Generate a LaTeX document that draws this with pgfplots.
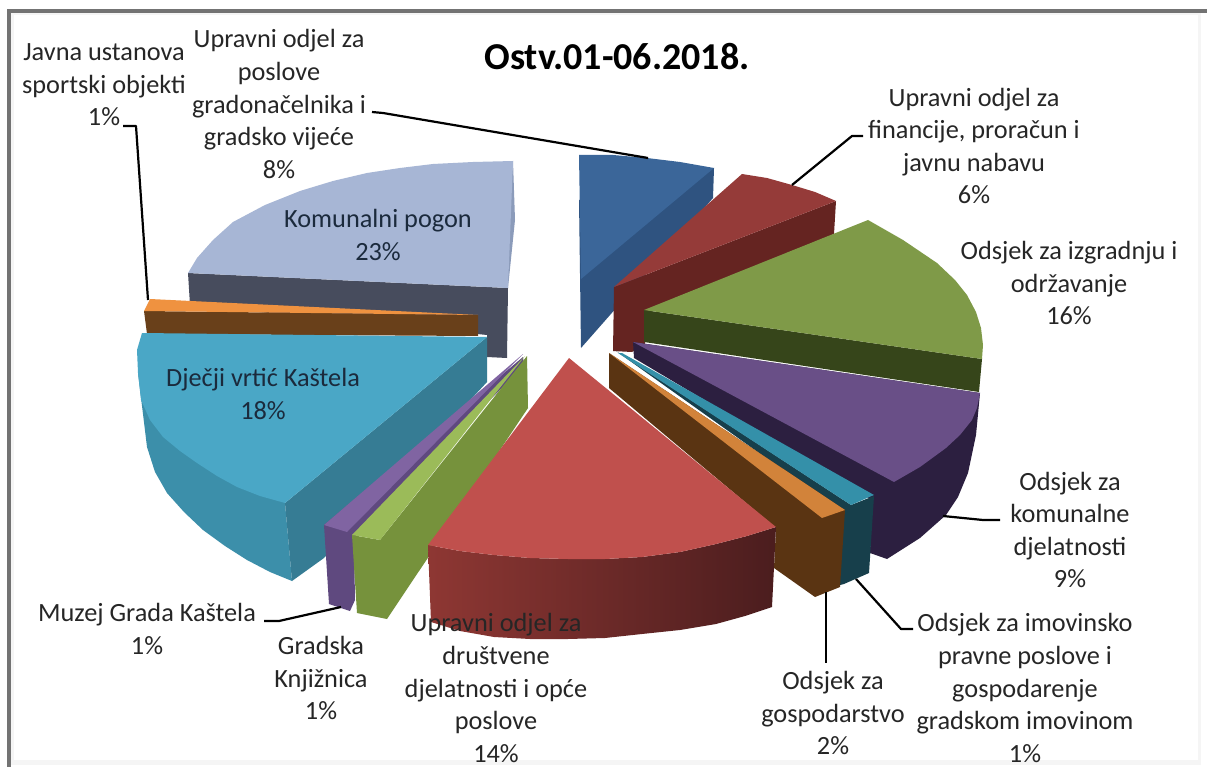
\documentclass[border=0pt]{standalone}
\usepackage{fontspec}
\setmainfont{Carlito}
\usepackage{pgfplots}
\pgfplotsset{compat=1.18}
\definecolor{txt}{HTML}{262626}
\definecolor{txtin}{HTML}{1B2A3C}
\definecolor{komSide}{HTML}{474C5D}
\definecolor{komEdge}{HTML}{8B9BBA}
\definecolor{komTop}{HTML}{A7B6D5}
\definecolor{gradSide}{HTML}{2F5380}
\definecolor{gradTop}{HTML}{3B6699}
\definecolor{finSide}{HTML}{652421}
\definecolor{finTop}{HTML}{953B39}
\definecolor{izgSide}{HTML}{36451A}
\definecolor{izgTop}{HTML}{7F9A48}
\definecolor{kdSide}{HTML}{2C1F40}
\definecolor{kdTop}{HTML}{694F87}
\definecolor{imSide}{HTML}{173F4B}
\definecolor{imTop}{HTML}{3490A9}
\definecolor{gosSide}{HTML}{5A3412}
\definecolor{gosTop}{HTML}{D2833A}
\definecolor{javSide}{HTML}{69401A}
\definecolor{javTop}{HTML}{EF9240}
\definecolor{djeWall}{HTML}{3C8FAA}
\definecolor{djeSide}{HTML}{367C94}
\definecolor{djeTop}{HTML}{4AA7C6}
\definecolor{muzSide}{HTML}{5F497F}
\definecolor{muzTop}{HTML}{8064A2}
\definecolor{knjSide}{HTML}{76923C}
\definecolor{knjTop}{HTML}{9BBB59}
\definecolor{druL}{HTML}{8E3733}
\definecolor{druR}{HTML}{4B1D1E}
\definecolor{druTop}{HTML}{C0504D}
\pgfplotsset{
  face/.style={draw=none,fill=#1,forget plot},
  lead/.style={black,line width=2.2pt,forget plot,line join=round},
}
\tikzset{lab/.style={font=\fontsize{26.3}{32.6}\selectfont,align=center,text=txt,inner sep=0pt}}
\begin{document}
\begin{tikzpicture}
\begin{axis}[
    width=1207pt, height=767pt, scale only axis,
    xmin=0, xmax=1207, ymin=0, ymax=767,
    y dir=reverse, hide axis, clip=true,
]
% background and frame
\addplot[face=white] coordinates {(0,0)(1207,0)(1207,767)(0,767)} -- cycle;
\addplot[face=gray!8] coordinates {(10,13)(1201,13)(1201,765)(10,765)} -- cycle;
\addplot[face=white] coordinates {(14,15)(1198,15)(1198,760)(14,760)} -- cycle;
\addplot[draw=gray!90!black,line width=3.2pt,forget plot] coordinates {(9,767)(9,11)(1207,11)};

% Komunalni pogon
\addplot[face=komSide] coordinates {(188,273)(508,288)(507,358)(487,357)(487,335)(190,305)} -- cycle;
\addplot[face=komEdge] coordinates {(513,161)(515,220)(508,288)(503,288)} -- cycle;
\addplot[face=komTop] coordinates {(188,273)(197,258)(213,240)(233,222)(265,205)(300,191)(333,181)(367,173)(400,168)(433,164)(473,162)(513,161)(508,288)} -- cycle;

% Upravni odjel za poslove gradonacelnika
\addplot[face=gradSide] coordinates {(579,200)(714,168)(713,198)(581,348)} -- cycle;
\addplot[face=gradTop] coordinates {(579,155)(613,155)(647,158)(680,162)(714,168)(581,279)} -- cycle;

% Upravni odjel za financije
\addplot[face=finSide] coordinates {(614,287)(836,201)(834,234)(645,312)(645,345)(632,352)(613,351)} -- cycle;
\addplot[face=finTop] coordinates {(614,287)(742,174)(767,178)(792,185)(815,192)(836,201)} -- cycle;

% Odsjek za izgradnju i odrzavanje
\addplot[face=izgSide] coordinates {(644,310)(982,359)(979,392)(644,342)} -- cycle;
\addplot[face=izgTop] coordinates {(644,310)(868,220)(903,240)(937,263)(955,280)(967,295)(976,312)(981,328)(983,345)(982,359)} -- cycle;

% Odsjek za komunalne djelatnosti
\addplot[face=kdSide] coordinates {(633,342)(634,358)(872,500)(870,553)(887,559)(920,538)(946,515)(958,497)(968,473)(976,435)(980,393)} -- cycle;
\addplot[face=kdTop] coordinates {(633,342)(980,393)(977,408)(972,420)(960,435)(946,448)(920,467)(894,482)} -- cycle;

% Odsjek za imovinsko pravne poslove
\addplot[face=imSide] coordinates {(616,351)(851,505)(874,496)(869,573)(844,584)(836,586)(842,512)} -- cycle;
\addplot[face=imTop] coordinates {(622,353)(874,495)(851,505)(618,353)} -- cycle;

% Odsjek za gospodarstvo
\addplot[face=gosSide] coordinates {(609,353)(609,388)(776,528)(774,568)(815,597)(840,587)(845,510)} -- cycle;
\addplot[face=gosTop] coordinates {(609,353)(845,510)(822,518)} -- cycle;

% Javna ustanova sportski objekti
\addplot[face=javSide] coordinates {(144,311)(478,315)(478,336)(147,334)} -- cycle;
\addplot[face=javTop] coordinates {(150,299)(144,311)(478,315)} -- cycle;

% Djecji vrtic Kastela
\addplot[face=djeWall] coordinates {(138,373)(147,447)(155,472)(167,493)(184,512)(203,530)(225,546)(247,560)(270,572)(292,581)(285,503)} -- cycle;
\addplot[face=djeSide] coordinates {(487,337)(487,382)(324,558)(292,581)(285,503)} -- cycle;
\addplot[face=djeTop] coordinates {(487,337)(142,333)(137,350)(138,373)(141,400)(150,420)(163,437)(180,451)(197,463)(217,476)(237,487)(260,496)(285,503)} -- cycle;

% Muzej Grada Kastela
\addplot[face=muzSide] coordinates {(523,357)(524,365)(354,540)(355,600)(350,611)(329,604)(324,525)} -- cycle;
\addplot[face=muzTop] coordinates {(324,525)(347,532)(523,354)} -- cycle;

% Gradska Knjiznica
\addplot[face=knjSide] coordinates {(527,356)(528,408)(387,619)(357,613)(352,535)(380,540)} -- cycle;
\addplot[face=knjTop] coordinates {(525,356)(380,540)(352,535)} -- cycle;

% Upravni odjel za drustvene djelatnosti
\addplot[draw=none,forget plot,left color=druL,right color=druR] coordinates {(428,545)(460,551)(494,555)(530,558)(568,559)(605,559)(642,557)(680,552)(716,544)(747,536)(776,527)(772,607)(745,616)(716,624)(680,630)(642,634)(605,638)(568,639)(530,639)(494,637)(460,631)(431,622)} -- cycle;
\addplot[face=druTop] coordinates {(569,358)(776,527)(747,536)(716,544)(680,552)(642,557)(605,559)(568,559)(530,558)(494,555)(460,551)(428,545)} -- cycle;

% leader lines
\addplot[lead] coordinates {(123,126)(136,126)(148,300)};
\addplot[lead] coordinates {(372,112)(383,113)(648,158)};
\addplot[lead] coordinates {(863,136)(852,136)(792,185)};
\addplot[lead] coordinates {(1000,520)(983,520)(943,516)};
\addplot[lead] coordinates {(913,629)(901,629)(856,579)};
\addplot[lead] coordinates {(826,592)(826,663)};
\addplot[lead] coordinates {(264,621)(279,621)(341,607)};

% title and labels
\node[font=\fontsize{38}{44}\bfseries\selectfont,text=black] at (axis cs:617,57) {Ostv.01-06.2018.};
\node[lab] at (axis cs:104,85) {Javna ustanova\\sportski objekti\\1\%};
\node[lab] at (axis cs:279,104) {Upravni odjel za\\poslove\\gradonačelnika i\\gradsko vijeće\\8\%};
\node[lab] at (axis cs:974,146) {Upravni odjel za\\financije, proračun i\\javnu nabavu\\6\%};
\node[lab] at (axis cs:1069,283) {Odsjek za izgradnju i\\održavanje\\16\%};
\node[lab,text=txtin] at (axis cs:378,235) {Komunalni pogon\\23\%};
\node[lab,text=txtin] at (axis cs:263,394) {Dječji vrtić Kaštela\\18\%};
\node[lab] at (axis cs:1070,530) {Odsjek za\\komunalne\\djelatnosti\\9\%};
\node[lab] at (axis cs:1025,688) {Odsjek za imovinsko\\pravne poslove i\\gospodarenje\\gradskom imovinom\\1\%};
\node[lab] at (axis cs:833,713) {Odsjek za\\gospodarstvo\\2\%};
\node[lab] at (axis cs:496,688) {Upravni odjel za\\društvene\\djelatnosti i opće\\poslove\\14\%};
\node[lab] at (axis cs:321,678) {Gradska\\Knjižnica\\1\%};
\node[lab] at (axis cs:147,629) {Muzej Grada Kaštela\\1\%};
\end{axis}
\end{tikzpicture}
\end{document}
